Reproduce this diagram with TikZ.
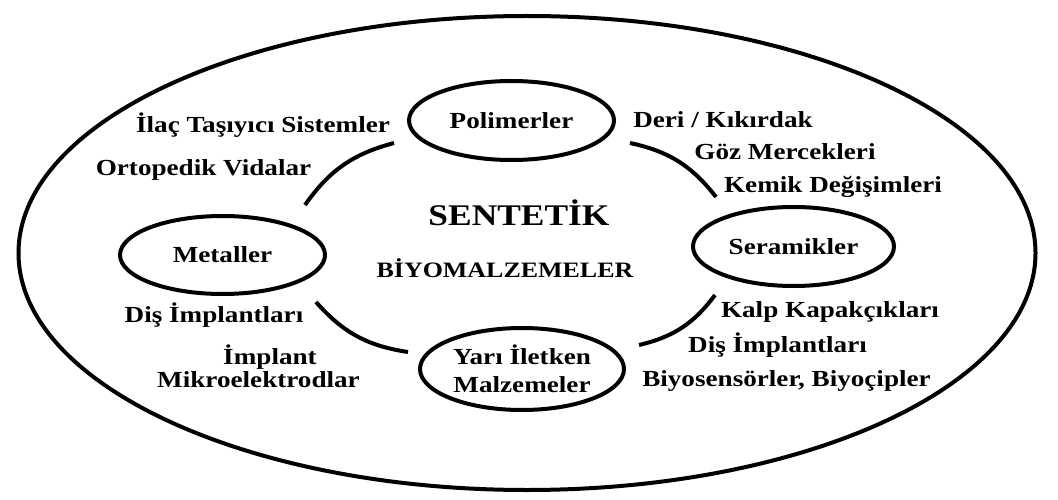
\documentclass[tikz,border=0pt]{standalone}
\usepackage{fontspec}
\setmainfont{Liberation Serif}[FakeStretch=1.18]
\usetikzlibrary{shapes.geometric}
\begin{document}
\begin{tikzpicture}[x=1pt,y=1pt,
  lbl/.style={font=\bfseries\fontsize{23}{26}\selectfont, inner sep=0pt, anchor=base},
  cat/.style={draw, line width=4pt, ellipse, inner sep=0pt, align=center,
              font=\bfseries\fontsize{23}{28}\selectfont},
  arcline/.style={line width=4pt}]
\useasboundingbox (0,0) rectangle (1058,-500);
% outer ellipse
\node[draw, line width=4pt, ellipse, minimum width=1017pt, minimum height=474pt] (outer) at (527,-253) {};
% category ellipses
\node[cat, minimum width=205pt, minimum height=79pt] (pol) at (511.5,-120.5) {Polimerler};
\node[cat, minimum width=205pt, minimum height=78pt] (met) at (222.5,-255) {Metaller};
\node[cat, minimum width=201pt, minimum height=79pt] (ser) at (793.5,-246.5) {Seramikler};
\node[cat, minimum width=204pt, minimum height=82pt] (yar) at (522,-369) {Yarı İletken\\Malzemeler};
% centre title
\node[inner sep=0pt, anchor=base, font=\bfseries\fontsize{30}{32}\selectfont] (t1) at (519,-225) {SENTETİK};
\node[inner sep=0pt, anchor=base, font=\bfseries\fontsize{22}{26}\selectfont] (t2) at (505,-277) {BİYOMALZEMELER};
% labels
\node[lbl] (l1) at (263,-132.5) {İlaç Taşıyıcı Sistemler};
\node[lbl] (l2) at (203.5,-175.5) {Ortopedik Vidalar};
\node[lbl] (l3) at (723,-127.5) {Deri / Kıkırdak};
\node[lbl] (l4) at (785,-159.5) {Göz Mercekleri};
\node[lbl] (l5) at (833,-192.5) {Kemik Değişimleri};
\node[lbl] (l6) at (214,-322.5) {Diş İmplantları};
\node[lbl] (l7) at (270,-364.5) {İmplant};
\node[lbl] (l8) at (258.5,-387.5) {Mikroelektrodlar};
\node[lbl] (l9) at (830,-317.5) {Kalp Kapakçıkları};
\node[lbl] (l10) at (777.5,-352.5) {Diş İmplantları};
\node[lbl] (l11) at (786.5,-386.5) {Biyosensörler, Biyoçipler};
% connecting arcs
\coordinate (a1s) at (305,-205); \coordinate (a1e) at (394,-143);
\coordinate (a2s) at (630,-143); \coordinate (a2e) at (716,-197);
\coordinate (a3s) at (316,-302); \coordinate (a3e) at (408,-352);
\coordinate (a4s) at (715,-295); \coordinate (a4e) at (639,-345);
\draw[arcline] (a1s) to[bend left=20] (a1e);
\draw[arcline] (a2s) to[bend left=20] (a2e);
\draw[arcline] (a3s) to[bend right=20] (a3e);
\draw[arcline] (a4s) to[bend left=20] (a4e);
\end{tikzpicture}
\end{document}
